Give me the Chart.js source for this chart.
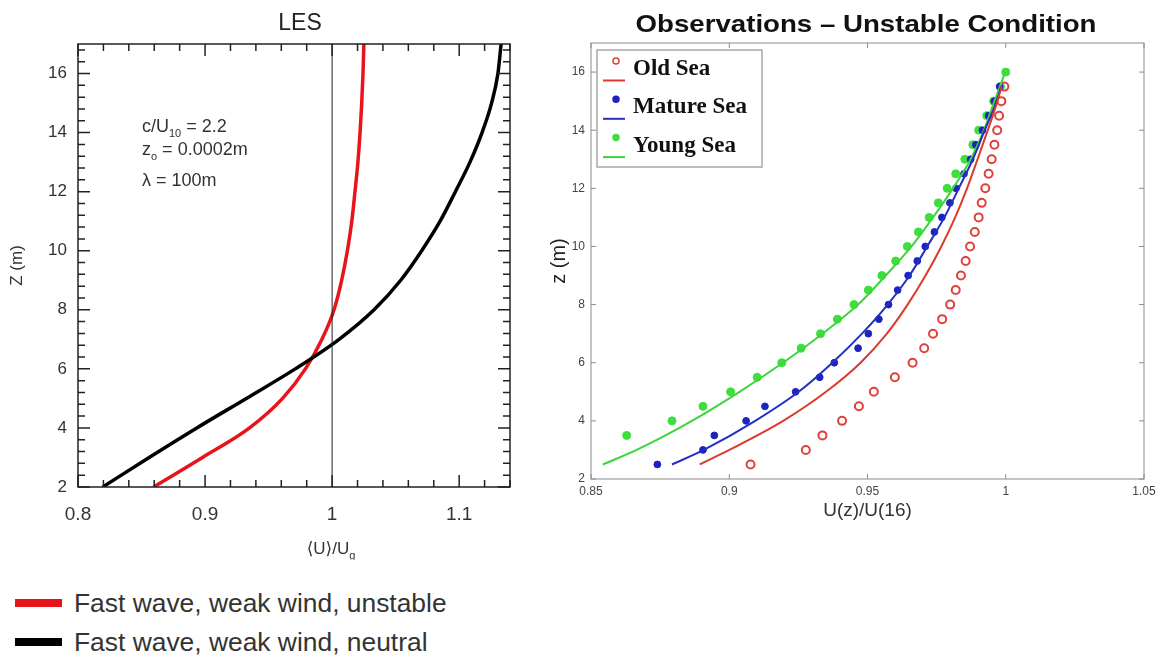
<!DOCTYPE html>
<html>
<head>
<meta charset="utf-8">
<script src="https://cdn.jsdelivr.net/npm/chart.js@4.4.1/dist/chart.umd.min.js"></script>
<style>
  body { margin: 0; background: #fff; width: 1162px; height: 661px; overflow: hidden; position: relative; }
  #les { position: absolute; left: 0; top: 0; }
  #obs { position: absolute; left: 540px; top: 0; }
  .key { position: absolute; left: 15px; height: 30px; line-height: 30px; display: flex; align-items: center;
         font: 26.4px "Liberation Sans", Arial, sans-serif; color: #333; white-space: nowrap; }
  .key i { display: inline-block; width: 47px; height: 8px; margin-right: 12px; }
</style>
</head>
<body>
<canvas id="les" width="540" height="560"></canvas>
<canvas id="obs" width="622" height="540"></canvas>
<div class="key" style="top:588px"><i style="background:#e8141c"></i>Fast wave, weak wind, unstable</div>
<div class="key" style="top:627px"><i style="background:#000"></i>Fast wave, weak wind, neutral</div>

<script>
// ---- LES mean wind profiles ----
const lesZ        = [2, 3, 4, 5, 6, 7, 8, 9, 10, 11, 12, 13, 14, 15, 16, 17];
const lesUnstable = [0.8595, 0.898, 0.935, 0.961, 0.979, 0.992, 1.0015, 1.0075, 1.012, 1.0155, 1.018, 1.0203, 1.022, 1.0233, 1.0243, 1.025];
const lesNeutral  = [0.8195, 0.856, 0.8935, 0.9325, 0.971, 1.0055, 1.033, 1.054, 1.0705, 1.085, 1.097, 1.1085, 1.118, 1.1255, 1.1305, 1.133];

// ---- Observed profiles, U(z)/U(16) ----
const obsZ      = [2.5, 3, 3.5, 4, 4.5, 5, 5.5, 6, 6.5, 7, 7.5, 8, 8.5, 9, 9.5, 10, 10.5, 11, 11.5, 12, 12.5, 13, 13.5, 14, 14.5, 15, 15.5, 16];
const oldSea    = [0.9077, 0.9277, 0.9337, 0.9408, 0.9469, 0.9523, 0.9599, 0.9663, 0.9705, 0.9737, 0.977, 0.9799, 0.9819, 0.9838, 0.9855, 0.9871, 0.9888, 0.9902, 0.9913, 0.9926, 0.9938, 0.9949, 0.9959, 0.9969, 0.9976, 0.9984, 0.9995, null];
const matureSea = [0.874, 0.8905, 0.8946, 0.9061, 0.9129, 0.924, 0.9327, 0.938, 0.9466, 0.9503, 0.9541, 0.9576, 0.9609, 0.9647, 0.968, 0.9709, 0.9742, 0.9769, 0.9798, 0.982, 0.9849, 0.9873, 0.9892, 0.9916, 0.9938, 0.9959, 0.9978, null];
const youngSea  = [null, null, 0.8629, 0.8793, 0.8905, 0.9005, 0.9101, 0.919, 0.926, 0.933, 0.9391, 0.9451, 0.9503, 0.9552, 0.9602, 0.9644, 0.9684, 0.9723, 0.9756, 0.9788, 0.9819, 0.9852, 0.9881, 0.9902, 0.9931, 0.9956, 0.9981, 1.0];

// fitted curves
const fitZ      = [2.5, 3, 4, 5, 6, 7, 8, 9, 10, 11, 12, 13, 14, 15, 15.5, 16];
const oldFit    = [0.8893, 0.9, 0.9195, 0.935, 0.9475, 0.957, 0.9645, 0.971, 0.9767, 0.9817, 0.986, 0.9898, 0.9935, 0.997, 0.9985, null];
const matureFit = [0.8793, 0.8908, 0.9094, 0.9251, 0.9373, 0.948, 0.9573, 0.9652, 0.9716, 0.9778, 0.983, 0.9881, 0.9924, 0.9967, 0.9983, null];
const youngFit  = [0.8543, 0.8665, 0.8865, 0.9037, 0.9194, 0.9337, 0.9466, 0.9566, 0.9659, 0.9737, 0.9809, 0.9873, 0.9921, 0.9959, 0.9979, 0.9998];

const SANS  = '"Liberation Sans", Arial, "DejaVu Sans", sans-serif';
const SERIF = '"Liberation Serif", "Times New Roman", serif';

Chart.defaults.font.family = SANS;

// profile points (x = wind ratio, y = height); gaps are skipped
function profile(us, zs) {
  const pts = [];
  zs.forEach((z, i) => { if (us[i] != null) pts.push({ x: us[i], y: z }); });
  return pts;
}

// inward tick marks on all four sides plus the box
function ticksAlong(scale, t, draw) {
  const n = Math.floor((scale.max - scale.min) / t.minor + 1e-6);
  for (let i = 0; i <= n; i++) {
    const v = scale.min + i * t.minor;
    const r = v / t.major;
    draw(scale.getPixelForValue(v), Math.abs(r - Math.round(r)) < 1e-6 ? t.majorLen : t.minorLen);
  }
}
const frame = {
  id: 'frame',
  afterDraw(chart, args, o) {
    const { ctx, chartArea: a, scales } = chart;
    ctx.save();
    ctx.strokeStyle = o.color;
    ctx.lineWidth = o.width;
    ctx.strokeRect(a.left, a.top, a.right - a.left, a.bottom - a.top);
    ctx.beginPath();
    ticksAlong(scales.x, o.x, (px, len) => {
      ctx.moveTo(px, a.bottom); ctx.lineTo(px, a.bottom - len);
      ctx.moveTo(px, a.top);    ctx.lineTo(px, a.top + len);
    });
    ticksAlong(scales.y, o.y, (py, len) => {
      ctx.moveTo(a.left, py);  ctx.lineTo(a.left + len, py);
      ctx.moveTo(a.right, py); ctx.lineTo(a.right - len, py);
    });
    ctx.stroke();
    ctx.restore();
  }
};

// text with optional subscripts
function richText(ctx, item) {
  const size = item.size, sub = Math.round(size * 0.62);
  const weight = item.weight || 'normal', family = item.family || SANS;
  const fontFor = p => weight + ' ' + (p.sub ? sub : size) + 'px ' + family;
  let w = 0;
  item.parts.forEach(p => { ctx.font = fontFor(p); w += ctx.measureText(p.t).width; });
  ctx.save();
  ctx.fillStyle = item.color || '#333';
  ctx.textBaseline = 'alphabetic';
  ctx.textAlign = 'left';
  const sx = item.fitWidth ? item.fitWidth / w : 1;
  const x0 = item.align === 'center' ? item.x - w * sx / 2 : item.x;
  ctx.translate(x0, item.y);
  ctx.scale(sx, 1);
  let cx = 0;
  item.parts.forEach(p => {
    ctx.font = fontFor(p);
    ctx.fillText(p.t, cx, p.sub ? size * 0.3 : 0);
    cx += ctx.measureText(p.t).width;
  });
  ctx.restore();
}
const texts = {
  id: 'texts',
  afterDraw(chart, args, o) { (o.items || []).forEach(it => richText(chart.ctx, it)); }
};

// legend box: marker above its fitted line, then the label
const obsLegend = {
  id: 'obsLegend',
  afterDraw(chart, args, o) {
    if (!o.entries) return;
    const ctx = chart.ctx, ds = chart.data.datasets;
    ctx.save();
    ctx.fillStyle = '#fff';
    ctx.strokeStyle = '#a8a8a8';
    ctx.lineWidth = 1.5;
    ctx.fillRect(o.box.x, o.box.y, o.box.w, o.box.h);
    ctx.strokeRect(o.box.x, o.box.y, o.box.w, o.box.h);
    o.entries.forEach((e, i) => {
      const top = o.box.y + o.first + i * o.gap;
      const pts = ds[e.points], ln = ds[e.line];
      ctx.beginPath();
      ctx.arc(o.markX, top, 3, 0, Math.PI * 2);
      if (pts.pointBackgroundColor !== 'transparent') { ctx.fillStyle = pts.pointBackgroundColor; ctx.fill(); }
      ctx.lineWidth = 1.5;
      ctx.strokeStyle = pts.pointBorderColor;
      ctx.stroke();
      ctx.beginPath();
      ctx.strokeStyle = ln.borderColor;
      ctx.lineWidth = 2;
      ctx.moveTo(o.lineX0, top + 19.5); ctx.lineTo(o.lineX1, top + 19.5);
      ctx.stroke();
      ctx.fillStyle = '#111';
      ctx.font = 'bold 23px ' + SERIF;
      ctx.textBaseline = 'middle';
      ctx.fillText(pts.label, o.textX, top + 8);
    });
    ctx.restore();
  }
};

const fmt = v => String(+v.toFixed(2));
const smooth = { showLine: true, cubicInterpolationMode: 'monotone', pointRadius: 0 };

// ---- left: LES ----
new Chart(document.getElementById('les'), {
  type: 'scatter',
  data: {
    datasets: [
      { label: 'ref', data: [{ x: 1, y: 2 }, { x: 1, y: 17 }], showLine: true, borderColor: '#222', borderWidth: 1, pointRadius: 0 },
      { ...smooth, label: 'Fast wave, weak wind, neutral', data: profile(lesNeutral, lesZ), borderColor: '#000', borderWidth: 3.5 },
      { ...smooth, label: 'Fast wave, weak wind, unstable', data: profile(lesUnstable, lesZ), borderColor: '#e8141c', borderWidth: 3.5 }
    ]
  },
  options: {
    responsive: false, animation: false, events: [],
    layout: { padding: { top: 44, right: 30, bottom: 0, left: 0 } },
    scales: {
      x: {
        type: 'linear', min: 0.8, max: 1.14,
        afterFit(s) { s.height = 73; },
        grid: { display: false, drawTicks: false }, border: { display: false },
        ticks: { stepSize: 0.1, includeBounds: false, padding: 16, color: '#333', maxRotation: 0,
                 font: { size: 19 }, callback: fmt }
      },
      y: {
        type: 'linear', min: 2, max: 17,
        afterFit(s) { s.width = 78; },
        grid: { display: false, drawTicks: false }, border: { display: false },
        ticks: { stepSize: 2, includeBounds: false, padding: 11, color: '#333', font: { size: 17 }, callback: fmt },
        title: { display: true, text: 'Z (m)', color: '#333', font: { size: 17 }, padding: { top: 7 } }
      }
    },
    plugins: {
      legend: { display: false }, tooltip: { enabled: false },
      frame: { color: '#222', width: 1.5,
               x: { major: 0.1, minor: 0.02, majorLen: 12, minorLen: 7 },
               y: { major: 2, minor: 0.4, majorLen: 12, minorLen: 7 } },
      texts: { items: [
        { parts: [{ t: 'LES' }], x: 300, y: 30, size: 23, align: 'center', color: '#222' },
        { parts: [{ t: 'c/U' }, { t: '10', sub: true }, { t: ' = 2.2' }], x: 142, y: 132, size: 18 },
        { parts: [{ t: 'z' }, { t: 'o', sub: true }, { t: ' = 0.0002m' }], x: 142, y: 155, size: 18 },
        { parts: [{ t: 'λ = 100m' }], x: 142, y: 186, size: 18 },
        { parts: [{ t: '⟨U⟩/U' }, { t: 'g', sub: true }], x: 331, y: 554, size: 17, align: 'center' }
      ] }
    }
  },
  plugins: [frame, texts]
});

// ---- right: observations ----
new Chart(document.getElementById('obs'), {
  type: 'scatter',
  data: {
    datasets: [
      { ...smooth, label: 'Old Sea fit', data: profile(oldFit, fitZ), borderColor: '#dc3a2c', borderWidth: 2 },
      { ...smooth, label: 'Mature Sea fit', data: profile(matureFit, fitZ), borderColor: '#2230c4', borderWidth: 2 },
      { ...smooth, label: 'Young Sea fit', data: profile(youngFit, fitZ), borderColor: '#3cd63c', borderWidth: 2 },
      { label: 'Old Sea', data: profile(oldSea, obsZ), pointRadius: 4, pointBorderWidth: 2,
        pointBorderColor: '#e0403c', pointBackgroundColor: 'transparent' },
      { label: 'Mature Sea', data: profile(matureSea, obsZ), pointRadius: 3.4, pointBorderWidth: 1,
        pointBorderColor: '#1e22c0', pointBackgroundColor: '#1e22c0' },
      { label: 'Young Sea', data: profile(youngSea, obsZ), pointRadius: 4, pointBorderWidth: 1,
        pointBorderColor: '#3ede3e', pointBackgroundColor: '#3ede3e' }
    ]
  },
  options: {
    responsive: false, animation: false, events: [],
    layout: { padding: { top: 43, right: 18, bottom: 0, left: 0 } },
    scales: {
      x: {
        type: 'linear', min: 0.85, max: 1.05,
        afterFit(s) { s.height = 61; },
        grid: { display: false, drawTicks: false }, border: { display: false },
        ticks: { stepSize: 0.05, padding: 5, color: '#444', maxRotation: 0, font: { size: 12 }, callback: fmt },
        title: { display: true, text: 'U(z)/U(16)', color: '#333', font: { size: 19 }, padding: { top: 0, bottom: 18 } }
      },
      y: {
        type: 'linear', min: 2, max: 17,
        afterFit(s) { s.width = 51; },
        grid: { display: false, drawTicks: false }, border: { display: false },
        ticks: { stepSize: 2, includeBounds: false, padding: 6, color: '#444', font: { size: 12 }, callback: fmt },
        title: { display: true, text: 'z (m)', color: '#222', font: { size: 20 }, padding: { top: 7 } }
      }
    },
    plugins: {
      legend: { display: false }, tooltip: { enabled: false },
      frame: { color: '#8c8c8c', width: 1,
               x: { major: 0.05, minor: 0.05, majorLen: 5, minorLen: 5 },
               y: { major: 2, minor: 2, majorLen: 5, minorLen: 5 } },
      texts: { items: [
        { parts: [{ t: 'Observations – Unstable Condition' }], x: 326, y: 32, size: 24, weight: 'bold',
          align: 'center', color: '#111', fitWidth: 461 }
      ] },
      obsLegend: {
        box: { x: 57, y: 50, w: 165, h: 117 },
        first: 11, gap: 38.3,
        markX: 76, lineX0: 63, lineX1: 85, textX: 93,
        entries: [ { points: 3, line: 0 }, { points: 4, line: 1 }, { points: 5, line: 2 } ]
      }
    }
  },
  plugins: [frame, texts, obsLegend]
});
</script>
</body>
</html>
